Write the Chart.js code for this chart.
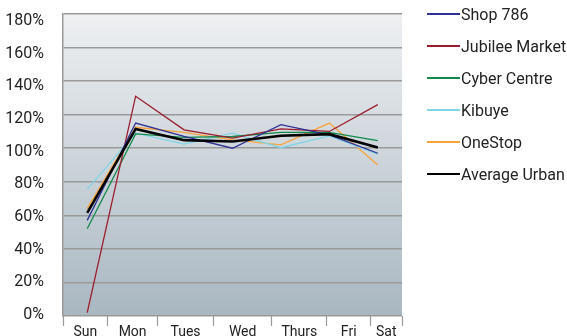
<!DOCTYPE html>
<html>
<head>
<meta charset="utf-8">
<script src="https://cdn.jsdelivr.net/npm/chart.js@4/dist/chart.umd.min.js"></script>
<style>
  html, body { margin: 0; padding: 0; background: #fff; }
  #wrap { position: relative; width: 567px; height: 336px; }
  #legend { position: absolute; left: 427px; top: -2px; font-family: Roboto, sans-serif; font-size: 16px; color: #222; }
  .row { display: flex; align-items: center; height: 32px; white-space: nowrap; }
  .swatch { width: 33px; margin-right: 1px; }
</style>
</head>
<body>
<div id="wrap">
  <canvas id="c" width="567" height="336"></canvas>
  <div id="legend"></div>
</div>
<script>
// Days of the week
const days = ['Sun', 'Mon', 'Tues', 'Wed', 'Thurs', 'Fri', 'Sat'];

// Daily sales as a percentage of the weekly daily mean
const shop786       = [57, 115, 107, 100, 114, 108, 97];
const jubileeMarket = [2, 131, 111, 106, 111.5, 110, 126];
const cyberCentre   = [52, 108.5, 106.5, 107, 109.5, 109.5, 104.5];
const kibuye        = [75.5, 109, 102.5, 109, 100.3, 107.3, 96.5];
const oneStop       = [64, 112.5, 109.5, 105, 102, 115, 90];
const averageUrban  = [61.5, 111.5, 104.8, 104, 107.4, 108.4, 100.5];

// Y axis ticks (percent)
const yTicks = [0, 20, 40, 60, 80, 100, 120, 140, 160, 180];

// Day separators on the bottom axis, in category units
const dayEdges = [0, 0.925, 1.95, 3.11, 4.31, 5.45, 6.35, 7];

const seriesNames = ['Shop 786', 'Jubilee Market', 'Cyber Centre', 'Kibuye', 'OneStop', 'Average Urban'];
const seriesData = [shop786, jubileeMarket, cyberCentre, kibuye, oneStop, averageUrban];
const seriesColors = ['#2e3192', '#9b1c2c', '#138a4b', '#7fd4e6', '#f9a33b', '#000000'];
const seriesWidths = [1.3, 1.3, 1.3, 1.3, 1.3, 2.6];

// Separator ticks interleaved with label ticks centred between them
const bottomTicks = [];
dayEdges.forEach((e, i) => {
  bottomTicks.push(e);
  if (i < dayEdges.length - 1) bottomTicks.push((e + dayEdges[i + 1]) / 2);
});

const plotBackground = {
  id: 'plotBackground',
  beforeDraw(chart) {
    const { ctx, chartArea: a } = chart;
    const g = ctx.createLinearGradient(0, a.top, 0, a.bottom);
    g.addColorStop(0, '#eef0f2');
    g.addColorStop(1, '#a9b7c1');
    ctx.save();
    ctx.fillStyle = g;
    ctx.fillRect(a.left, a.top, a.right - a.left, a.bottom - a.top);
    ctx.restore();
  }
};

// Keep the tick labels from reserving extra room above and below the plot
function noVerticalOverflow(scale) {
  scale.paddingTop = 0;
  scale.paddingBottom = 0;
}

const chart = new Chart(document.getElementById('c'), {
  type: 'line',
  data: {
    labels: days,
    datasets: seriesNames.map((name, i) => ({
      label: name,
      data: seriesData[i],
      borderColor: seriesColors[i],
      backgroundColor: seriesColors[i],
      borderWidth: seriesWidths[i],
      pointRadius: 0,
      tension: 0,
      fill: false,
      order: i === 5 ? 0 : 1
    }))
  },
  options: {
    responsive: false,
    animation: false,
    layout: { padding: { top: 14, right: 165, left: 0, bottom: 0 } },
    plugins: { legend: { display: false }, tooltip: { enabled: false } },
    scales: {
      x: {
        type: 'category',
        offset: true,
        display: false
      },
      days: {
        type: 'linear',
        position: 'bottom',
        min: 0,
        max: 7,
        afterBuildTicks(scale) {
          scale.ticks = bottomTicks.map(v => ({ value: v }));
        },
        afterFit(scale) { scale.height = 20; },
        grid: {
          drawOnChartArea: false,
          drawTicks: true,
          tickLength: 10,
          tickWidth: 1.2,
          tickColor: ctx => (ctx.index % 2 ? 'rgba(0,0,0,0)' : '#9a9a9a')
        },
        border: { display: false },
        ticks: {
          autoSkip: false,
          maxRotation: 0,
          minRotation: 0,
          padding: -2,
          color: '#222',
          font: { family: 'Roboto', size: 14 },
          callback: (v, i) => (i % 2 ? days[(i - 1) / 2] : '')
        }
      },
      // value axis: gridlines and left border
      y: {
        min: 0,
        max: 180,
        weight: 0,
        afterBuildTicks(scale) {
          scale.ticks = yTicks.map(v => ({ value: v }));
        },
        afterFit(scale) { scale.width = 0; noVerticalOverflow(scale); },
        grid: { color: '#9a9a9a', lineWidth: 1.5, drawTicks: false },
        border: { display: true, color: '#9a9a9a', width: 1.5 },
        ticks: { display: false }
      },
      // percent labels, set slightly tighter than the gridlines
      yLabels: {
        type: 'linear',
        position: 'left',
        min: -0.6,
        max: 184.3,
        weight: 1,
        afterBuildTicks(scale) {
          scale.ticks = yTicks.map(v => ({ value: v }));
        },
        afterFit(scale) { scale.width = 63; noVerticalOverflow(scale); },
        grid: { display: false, drawTicks: false },
        border: { display: false },
        ticks: {
          padding: 19,
          color: '#222',
          font: { family: 'Roboto', size: 16 },
          callback: v => v + '%'
        }
      }
    }
  },
  plugins: [plotBackground]
});

// Legend built from the chart's datasets
const legend = document.getElementById('legend');
chart.data.datasets.forEach(ds => {
  const row = document.createElement('div');
  row.className = 'row';
  const sw = document.createElement('span');
  sw.className = 'swatch';
  sw.style.height = (ds.borderWidth > 2 ? 2 : 1.5) + 'px';
  sw.style.background = ds.borderColor;
  const txt = document.createElement('span');
  txt.textContent = ds.label;
  row.appendChild(sw);
  row.appendChild(txt);
  legend.appendChild(row);
});
</script>
</body>
</html>
